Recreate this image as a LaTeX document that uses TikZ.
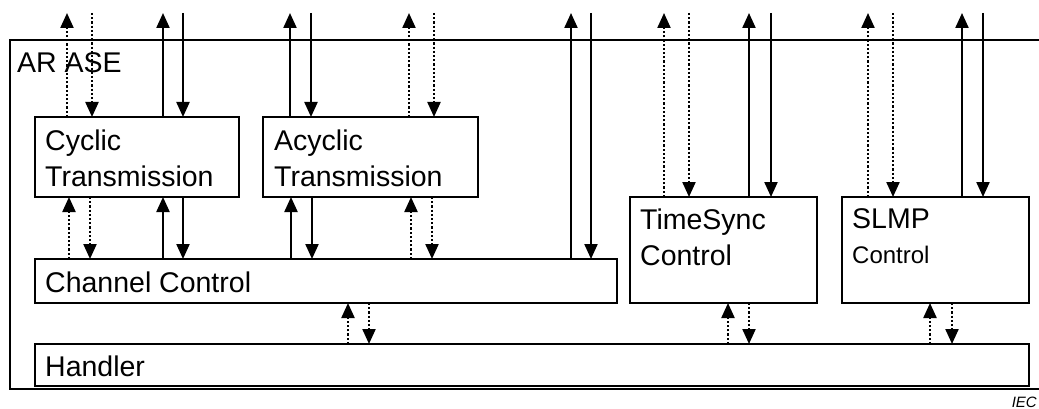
\documentclass[tikz,border=0pt]{standalone}
\usepackage{fontspec}
\setmainfont{Liberation Sans}
\usetikzlibrary{arrows.meta}
\begin{document}
\begin{tikzpicture}[x=1pt,y=-1pt,
  box/.style={draw,line width=2.2pt,anchor=north west,inner sep=0pt,outer sep=0pt},
  txt/.style={anchor=base west,inner sep=0pt,font=\fontsize{28.5}{34}\selectfont},
  smalltxt/.style={anchor=base west,inner sep=0pt,font=\fontsize{24}{29}\selectfont},
  tip/.style={-{Triangle[length=15pt,width=13pt]}},
  solidarrow/.style={tip,line width=2.2pt},
  dotarrow/.style={tip,line width=2.2pt,dash pattern=on 2.2pt off 2pt}
]
\useasboundingbox (0,0) rectangle (1039,409);
% outer frame (extends beyond right edge)
\draw[line width=2.2pt] (1060,40) -- (10,40) -- (10,389) -- (1060,389);
\node[txt] (arase) at (17,73) {AR ASE};

% boxes
\node[box,minimum width=204pt,minimum height=80pt] (cyc) at (35,117) {};
\node[box,minimum width=215pt,minimum height=80pt] (acy) at (263,117) {};
\node[box,minimum width=582pt,minimum height=44pt] (ch) at (35,259) {};
\node[box,minimum width=994pt,minimum height=42pt] (hd) at (35,344) {};
\node[box,minimum width=187pt,minimum height=106pt] (ts) at (630,197) {};
\node[box,minimum width=187pt,minimum height=106pt] (sl) at (842,197) {};

% labels
\node[txt] (cyc1) at (45,151) {Cyclic};
\node[txt] (cyc2) at (45,186) {Transmission};
\node[txt] (acy1) at (274,151) {Acyclic};
\node[txt] (acy2) at (274,186) {Transmission};
\node[txt] (chl) at (45,292) {Channel Control};
\node[txt] (hdl) at (45,376) {Handler};
\node[txt] (ts1) at (640,229) {TimeSync};
\node[txt] (ts2) at (640,265) {Control};
\node[txt] (sl1) at (852,228) {SLMP};
\node[smalltxt] (sl2) at (852,263) {Control};
\node[anchor=base east,inner sep=0pt,font=\fontsize{15}{17}\selectfont\itshape] (iec) at (1037,407) {IEC};

% free ends at the top
\foreach \n/\x in {a/67,b/92,c/163,d/183,e/290,f/311,g/409,h/434,i/571,j/591,k/664,l/689,m/749,n/771,o/868,p/893,q/962,r/983}
  \coordinate (t\n) at (\x,13);

% top arrows
\draw[dotarrow]   (ta |- cyc.north) -- (ta);
\draw[dotarrow]   (tb) -- (tb |- cyc.north);
\draw[solidarrow] (tc |- cyc.north) -- (tc);
\draw[solidarrow] (td) -- (td |- cyc.north);
\draw[solidarrow] (te |- acy.north) -- (te);
\draw[solidarrow] (tf) -- (tf |- acy.north);
\draw[dotarrow]   (tg |- acy.north) -- (tg);
\draw[dotarrow]   (th) -- (th |- acy.north);
\draw[solidarrow] (ti |- ch.north) -- (ti);
\draw[solidarrow] (tj) -- (tj |- ch.north);
\draw[dotarrow]   (tk |- ts.north) -- (tk);
\draw[dotarrow]   (tl) -- (tl |- ts.north);
\draw[solidarrow] (tm |- ts.north) -- (tm);
\draw[solidarrow] (tn) -- (tn |- ts.north);
\draw[dotarrow]   (to |- sl.north) -- (to);
\draw[dotarrow]   (tp) -- (tp |- sl.north);
\draw[solidarrow] (tq |- sl.north) -- (tq);
\draw[solidarrow] (tr) -- (tr |- sl.north);

% cyclic <-> channel
\draw[dotarrow]   (69,0 |- ch.north) -- (69,0 |- cyc.south);
\draw[dotarrow]   (90,0 |- cyc.south) -- (90,0 |- ch.north);
\draw[solidarrow] (163,0 |- ch.north) -- (163,0 |- cyc.south);
\draw[solidarrow] (183,0 |- cyc.south) -- (183,0 |- ch.north);
% acyclic <-> channel
\draw[solidarrow] (291,0 |- ch.north) -- (291,0 |- acy.south);
\draw[solidarrow] (312,0 |- acy.south) -- (312,0 |- ch.north);
\draw[dotarrow]   (411,0 |- ch.north) -- (411,0 |- acy.south);
\draw[dotarrow]   (432,0 |- acy.south) -- (432,0 |- ch.north);
% channel <-> handler
\draw[dotarrow]   (348,0 |- hd.north) -- (348,0 |- ch.south);
\draw[dotarrow]   (369,0 |- ch.south) -- (369,0 |- hd.north);
% timesync <-> handler
\draw[dotarrow]   (728,0 |- hd.north) -- (728,0 |- ts.south);
\draw[dotarrow]   (749,0 |- ts.south) -- (749,0 |- hd.north);
% slmp <-> handler
\draw[dotarrow]   (930,0 |- hd.north) -- (930,0 |- sl.south);
\draw[dotarrow]   (952,0 |- sl.south) -- (952,0 |- hd.north);
\end{tikzpicture}
\end{document}
